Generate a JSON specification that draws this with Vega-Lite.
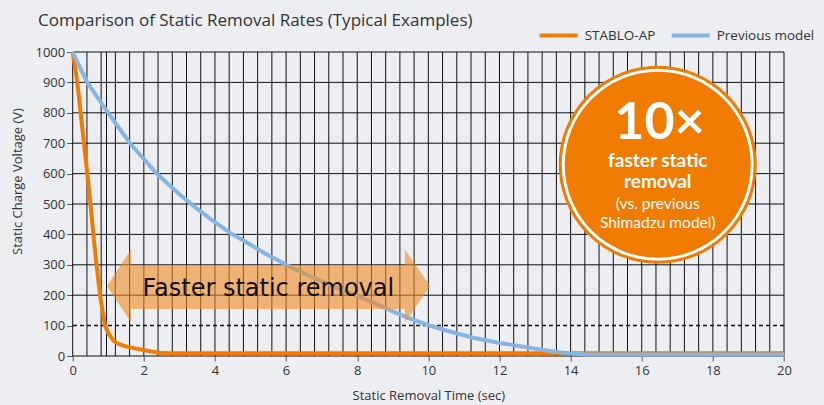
{
  "$schema": "https://vega.github.io/schema/vega-lite/v6.json",
  "width": 711.3,
  "height": 304,
  "autosize": "none",
  "padding": {"left": 72.7, "top": 52, "right": 40, "bottom": 49},
  "background": "#eceef1",
  "title": {
    "text": "Comparison of Static Removal Rates (Typical Examples)",
    "anchor": "start",
    "frame": "group",
    "dx": -34.7,
    "dy": 27,
    "offset": 12,
    "font": "Open Sans",
    "fontSize": 17,
    "fontWeight": "normal",
    "color": "#333333"
  },
  "resolve": {"axis": {"x": "independent", "y": "independent"}},
  "config": {
    "view": {"stroke": null},
    "axis": {
      "labelFont": "Open Sans",
      "labelFontSize": 13,
      "labelColor": "#333333",
      "titleFont": "Open Sans",
      "titleFontSize": 13,
      "titleFontWeight": "normal",
      "titleColor": "#333333",
      "tickColor": "#555555",
      "domain": false,
      "grid": false,
      "labelOverlap": false
    },
    "legend": {
      "orient": "none",
      "legendX": 465,
      "legendY": -37.5,
      "direction": "horizontal",
      "symbolType": "stroke",
      "symbolSize": 1444,
      "symbolStrokeWidth": 4,
      "labelFont": "Open Sans",
      "labelFontSize": 13.5,
      "labelColor": "#333333",
      "labelOffset": 5,
      "columnPadding": 8,
      "padding": 0,
      "title": null
    }
  },
  "datasets": {
    "vgrid": [
      {"t": 0}, {"t": 0.4}, {"t": 0.8}, {"t": 0.95}, {"t": 1.2}, {"t": 1.6},
      {"t": 2}, {"t": 2.4}, {"t": 2.8}, {"t": 3.2}, {"t": 3.6},
      {"t": 4}, {"t": 4.4}, {"t": 4.8}, {"t": 5.2}, {"t": 5.6},
      {"t": 6}, {"t": 6.4}, {"t": 6.8}, {"t": 7.2}, {"t": 7.6},
      {"t": 8}, {"t": 8.4}, {"t": 8.8}, {"t": 9.2}, {"t": 9.6},
      {"t": 10}, {"t": 10.4}, {"t": 10.8}, {"t": 11.2}, {"t": 11.6},
      {"t": 12}, {"t": 12.4}, {"t": 12.8}, {"t": 13.2}, {"t": 13.6},
      {"t": 14}, {"t": 14.4}, {"t": 14.8}, {"t": 15.2}, {"t": 15.6},
      {"t": 16}, {"t": 16.4}, {"t": 16.8}, {"t": 17.2}, {"t": 17.6},
      {"t": 18}, {"t": 18.4}, {"t": 18.8}, {"t": 19.2}, {"t": 19.6},
      {"t": 20}
    ],
    "hgrid": [
      {"v": 0}, {"v": 200}, {"v": 300}, {"v": 400}, {"v": 500},
      {"v": 600}, {"v": 700}, {"v": 800}, {"v": 900}, {"v": 1000}
    ],
    "dashed": [{"v": 100}],
    "stablo": [
      {"t": 0, "v": 1000, "series": "STABLO-AP"},
      {"t": 0.13, "v": 900, "series": "STABLO-AP"},
      {"t": 0.27, "v": 750, "series": "STABLO-AP"},
      {"t": 0.41, "v": 600, "series": "STABLO-AP"},
      {"t": 0.5, "v": 500, "series": "STABLO-AP"},
      {"t": 0.58, "v": 400, "series": "STABLO-AP"},
      {"t": 0.67, "v": 300, "series": "STABLO-AP"},
      {"t": 0.77, "v": 200, "series": "STABLO-AP"},
      {"t": 0.85, "v": 140, "series": "STABLO-AP"},
      {"t": 0.91, "v": 100, "series": "STABLO-AP"},
      {"t": 1.0, "v": 75, "series": "STABLO-AP"},
      {"t": 1.15, "v": 50, "series": "STABLO-AP"},
      {"t": 1.3, "v": 39, "series": "STABLO-AP"},
      {"t": 1.55, "v": 30, "series": "STABLO-AP"},
      {"t": 1.75, "v": 25, "series": "STABLO-AP"},
      {"t": 2.0, "v": 20, "series": "STABLO-AP"},
      {"t": 2.2, "v": 15, "series": "STABLO-AP"},
      {"t": 2.45, "v": 11, "series": "STABLO-AP"},
      {"t": 2.7, "v": 9, "series": "STABLO-AP"},
      {"t": 20, "v": 9, "series": "STABLO-AP"}
    ],
    "previous": [
      {"t": 0, "v": 1000, "series": "Previous model"},
      {"t": 0.2, "v": 950, "series": "Previous model"},
      {"t": 0.41, "v": 900, "series": "Previous model"},
      {"t": 0.7, "v": 850, "series": "Previous model"},
      {"t": 1.0, "v": 800, "series": "Previous model"},
      {"t": 1.3, "v": 750, "series": "Previous model"},
      {"t": 1.61, "v": 700, "series": "Previous model"},
      {"t": 2.0, "v": 648, "series": "Previous model"},
      {"t": 2.36, "v": 600, "series": "Previous model"},
      {"t": 2.7, "v": 564, "series": "Previous model"},
      {"t": 3.0, "v": 532, "series": "Previous model"},
      {"t": 3.5, "v": 484, "series": "Previous model"},
      {"t": 4.0, "v": 440, "series": "Previous model"},
      {"t": 4.42, "v": 405, "series": "Previous model"},
      {"t": 4.8, "v": 380, "series": "Previous model"},
      {"t": 5.4, "v": 338, "series": "Previous model"},
      {"t": 6.0, "v": 300, "series": "Previous model"},
      {"t": 6.5, "v": 272, "series": "Previous model"},
      {"t": 7.0, "v": 246, "series": "Previous model"},
      {"t": 7.5, "v": 221, "series": "Previous model"},
      {"t": 8.0, "v": 198, "series": "Previous model"},
      {"t": 8.5, "v": 173, "series": "Previous model"},
      {"t": 9.0, "v": 147, "series": "Previous model"},
      {"t": 9.5, "v": 122, "series": "Previous model"},
      {"t": 10.05, "v": 100, "series": "Previous model"},
      {"t": 10.5, "v": 84, "series": "Previous model"},
      {"t": 11.26, "v": 60, "series": "Previous model"},
      {"t": 12.0, "v": 43, "series": "Previous model"},
      {"t": 12.76, "v": 29, "series": "Previous model"},
      {"t": 13.5, "v": 15, "series": "Previous model"},
      {"t": 14.07, "v": 7, "series": "Previous model"},
      {"t": 14.5, "v": 5, "series": "Previous model"},
      {"t": 20, "v": 5, "series": "Previous model"}
    ],
    "arrowBody": [{"t": 1.64, "t2": 9.34, "top": 299, "bot": 155}],
    "arrowLeft": [{"t": 1.64, "v": 230.5}],
    "arrowRight": [{"t": 9.34, "v": 230.5}],
    "arrowText": [{"t": 5.5, "v": 222, "label": "Faster static removal"}],
    "badge": [{"t": 16.45, "v": 629}],
    "badgeBig": [{"t": 16.5, "v": 767, "label": "10×"}],
    "badgeMid": [
      {"t": 16.45, "v": 641, "label": "faster static"},
      {"t": 16.45, "v": 572, "label": "removal"}
    ],
    "badgeSmall": [
      {"t": 16.45, "v": 501, "label": "(vs. previous"},
      {"t": 16.45, "v": 437, "label": "Shimadzu model)"}
    ]
  },
  "layer": [
    {
      "data": {"name": "vgrid"},
      "mark": {"type": "rule", "color": "#111111", "strokeWidth": 1},
      "encoding": {
        "x": {
          "field": "t", "type": "quantitative",
          "scale": {"domain": [0, 20], "nice": false, "zero": false},
          "axis": {
            "orient": "bottom",
            "values": [0, 2, 4, 6, 8, 10, 12, 14, 16, 18, 20],
            "title": "Static Removal Time (sec)",
            "tickSize": 5,
            "labelPadding": 3,
            "titlePadding": 12,
            "labelFlush": false,
            "labelOverlap": false
          }
        }
      }
    },
    {
      "data": {"name": "hgrid"},
      "mark": {"type": "rule", "color": "#111111", "strokeWidth": 1},
      "encoding": {
        "y": {
          "field": "v", "type": "quantitative",
          "scale": {"domain": [0, 1000], "nice": false},
          "axis": {
            "orient": "left",
            "values": [0, 100, 200, 300, 400, 500, 600, 700, 800, 900, 1000],
            "format": "d",
            "title": "Static Charge Voltage (V)",
            "tickSize": 6,
            "labelPadding": 2,
            "labelOverlap": false,
            "titleX": -54.7,
            "titleY": 129,
            "titleAlign": "center",
            "titleBaseline": "middle",
            "titleAngle": -90
          }
        }
      }
    },
    {
      "data": {"name": "dashed"},
      "mark": {"type": "rule", "color": "#111111", "strokeWidth": 1.5, "strokeDash": [4, 3]},
      "encoding": {
        "y": {"field": "v", "type": "quantitative", "axis": null}
      }
    },
    {
      "data": {"name": "stablo"},
      "mark": {"type": "line", "strokeWidth": 4},
      "encoding": {
        "x": {"field": "t", "type": "quantitative", "axis": null},
        "y": {"field": "v", "type": "quantitative", "axis": null},
        "color": {
          "field": "series", "type": "nominal",
          "scale": {"domain": ["STABLO-AP", "Previous model"], "range": ["#ef7b00", "#88b4e2"]}
        }
      }
    },
    {
      "data": {"name": "previous"},
      "mark": {"type": "line", "strokeWidth": 4},
      "encoding": {
        "x": {"field": "t", "type": "quantitative", "axis": null},
        "y": {"field": "v", "type": "quantitative", "axis": null},
        "color": {"field": "series", "type": "nominal"}
      }
    },
    {
      "data": {"name": "arrowBody"},
      "mark": {"type": "rect", "color": "#f08a24", "opacity": 0.6},
      "encoding": {
        "x": {"field": "t", "type": "quantitative", "axis": null},
        "x2": {"field": "t2"},
        "y": {"field": "top", "type": "quantitative", "axis": null},
        "y2": {"field": "bot"}
      }
    },
    {
      "data": {"name": "arrowLeft"},
      "mark": {"type": "point", "shape": "M0,-1L-0.656,0L0,1Z", "filled": true, "color": "#f08a24", "opacity": 0.6, "size": 5358, "strokeWidth": 0},
      "encoding": {
        "x": {"field": "t", "type": "quantitative", "axis": null},
        "y": {"field": "v", "type": "quantitative", "axis": null}
      }
    },
    {
      "data": {"name": "arrowRight"},
      "mark": {"type": "point", "shape": "M0,-1L0.69,0L0,1Z", "filled": true, "color": "#f08a24", "opacity": 0.6, "size": 5358, "strokeWidth": 0},
      "encoding": {
        "x": {"field": "t", "type": "quantitative", "axis": null},
        "y": {"field": "v", "type": "quantitative", "axis": null}
      }
    },
    {
      "data": {"name": "arrowText"},
      "mark": {"type": "text", "font": "DejaVu Sans", "fontSize": 24, "color": "#111111", "align": "center", "baseline": "middle"},
      "encoding": {
        "x": {"field": "t", "type": "quantitative", "axis": null},
        "y": {"field": "v", "type": "quantitative", "axis": null},
        "text": {"field": "label"}
      }
    },
    {
      "data": {"name": "badge"},
      "mark": {"type": "point", "shape": "circle", "filled": true, "color": "#ffffff", "opacity": 1, "size": 36864},
      "encoding": {
        "x": {"field": "t", "type": "quantitative", "axis": null},
        "y": {"field": "v", "type": "quantitative", "axis": null}
      }
    },
    {
      "data": {"name": "badge"},
      "mark": {"type": "point", "shape": "circle", "filled": true, "color": "#ef7b00", "opacity": 1, "size": 34596},
      "encoding": {
        "x": {"field": "t", "type": "quantitative", "axis": null},
        "y": {"field": "v", "type": "quantitative", "axis": null}
      }
    },
    {
      "data": {"name": "badge"},
      "mark": {"type": "point", "shape": "circle", "filled": false, "stroke": "#ef7b00", "strokeWidth": 3, "opacity": 1, "size": 38025},
      "encoding": {
        "x": {"field": "t", "type": "quantitative", "axis": null},
        "y": {"field": "v", "type": "quantitative", "axis": null}
      }
    },
    {
      "data": {"name": "badgeBig"},
      "mark": {"type": "text", "font": "Lato", "fontSize": 52, "fontWeight": "bold", "color": "#ffffff", "align": "center", "baseline": "middle"},
      "encoding": {
        "x": {"field": "t", "type": "quantitative", "axis": null},
        "y": {"field": "v", "type": "quantitative", "axis": null},
        "text": {"field": "label"}
      }
    },
    {
      "data": {"name": "badgeMid"},
      "mark": {"type": "text", "font": "Lato", "fontSize": 19, "fontWeight": "bold", "color": "#ffffff", "align": "center", "baseline": "middle"},
      "encoding": {
        "x": {"field": "t", "type": "quantitative", "axis": null},
        "y": {"field": "v", "type": "quantitative", "axis": null},
        "text": {"field": "label"}
      }
    },
    {
      "data": {"name": "badgeSmall"},
      "mark": {"type": "text", "font": "Lato", "fontSize": 15.5, "color": "#ffffff", "align": "center", "baseline": "middle"},
      "encoding": {
        "x": {"field": "t", "type": "quantitative", "axis": null},
        "y": {"field": "v", "type": "quantitative", "axis": null},
        "text": {"field": "label"}
      }
    }
  ]
}
